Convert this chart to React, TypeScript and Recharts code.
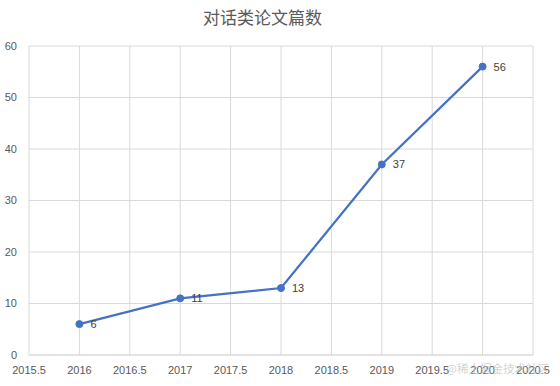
import React from 'react';
import { LineChart, Line, XAxis, YAxis, CartesianGrid, LabelList } from 'recharts';

const years = [2016, 2017, 2018, 2019, 2020];
const counts = [6, 11, 13, 37, 56];
const xTicks = [2015.5, 2016, 2016.5, 2017, 2017.5, 2018, 2018.5, 2019, 2019.5, 2020, 2020.5];
const yTicks = [0, 10, 20, 30, 40, 50, 60];
const title = '对话类论文篇数';
const watermark = '@稀土掘金技术社区';

const data = years.map((y, i) => ({ year: y, count: counts[i] }));

const tickStyle = { fill: '#595959', fontSize: 11, fontFamily: 'Liberation Sans, Arial, sans-serif' };

export default function App() {
  return (
    <div style={{ position: 'absolute', left: 0, top: 0, width: 560, height: 386, background: '#fff' }}>
      <div
        style={{
          position: 'absolute',
          left: 0,
          width: 525,
          top: 5,
          textAlign: 'center',
          fontFamily: '"Noto Sans CJK SC", sans-serif',
          fontSize: 17,
          color: '#595959',
          lineHeight: '24px',
        }}
      >
        {title}
      </div>
      <LineChart width={560} height={386} data={data} margin={{ top: 46, right: 27, left: 0, bottom: 0 }}>
        <CartesianGrid stroke="#d9d9d9" strokeWidth={1} />
        <XAxis
          dataKey="year"
          type="number"
          domain={[2015.5, 2020.5]}
          ticks={xTicks}
          interval={0}
          height={31}
          tickLine={false}
          tickSize={6}
          tickMargin={5}
          axisLine={{ stroke: '#d9d9d9' }}
          tick={tickStyle}
        />
        <YAxis
          type="number"
          domain={[0, 60]}
          ticks={yTicks}
          width={29}
          tickLine={false}
          tickSize={6}
          tickMargin={6}
          axisLine={false}
          tick={tickStyle}
        />
        <Line
          type="linear"
          dataKey="count"
          stroke="#4472C4"
          strokeWidth={2.25}
          dot={{ r: 3.5, fill: '#4472C4', stroke: '#4472C4', strokeWidth: 1 }}
          isAnimationActive={false}
        >
          <LabelList
            dataKey="count"
            position="right"
            offset={11}
            style={{ fill: '#404040', fontSize: 11, fontFamily: 'Liberation Sans, Arial, sans-serif' }}
          />
        </Line>
      </LineChart>
      <div
        style={{
          position: 'absolute',
          left: 446,
          top: 360,
          fontFamily: '"Noto Sans CJK SC", sans-serif',
          fontSize: 11.5,
          color: 'rgba(190,190,190,0.7)',
          whiteSpace: 'nowrap',
          lineHeight: '16px',
        }}
      >
        {watermark}
      </div>
    </div>
  );
}
